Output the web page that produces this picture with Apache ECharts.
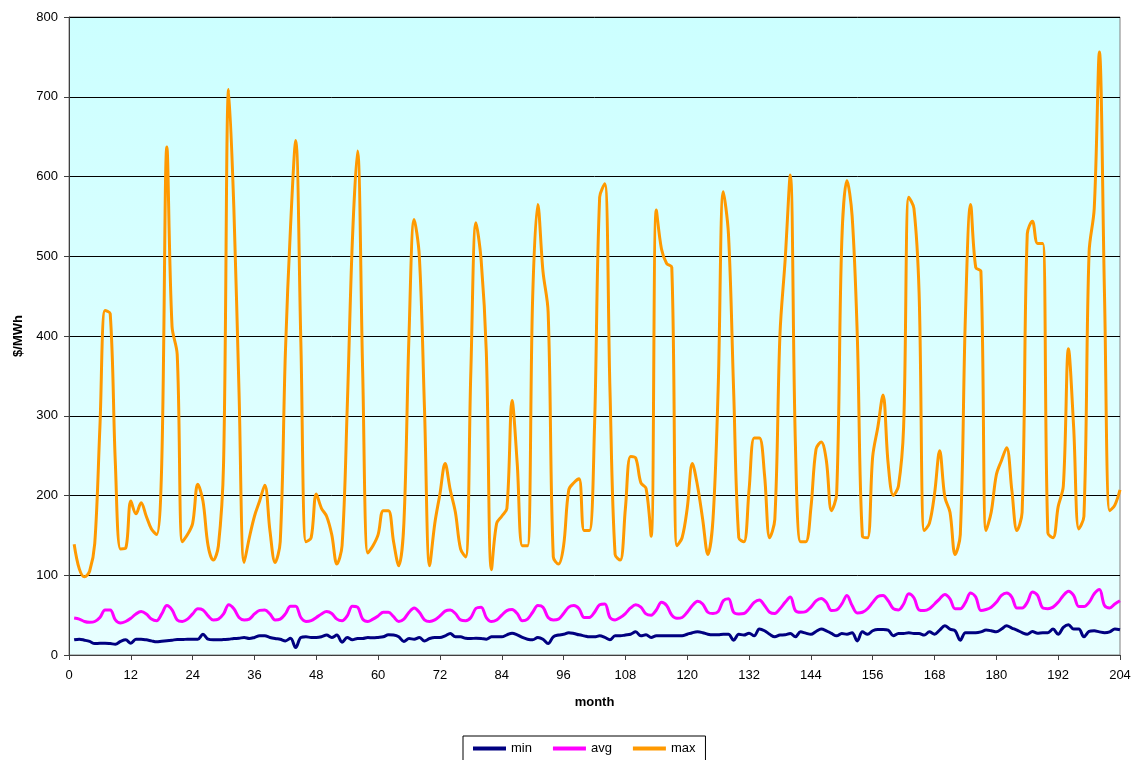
<!DOCTYPE html>
<html>
<head>
<meta charset="utf-8">
<script src="https://cdn.jsdelivr.net/npm/echarts@6/dist/echarts.min.js"></script>
<style>
html,body{margin:0;padding:0;background:#fff;}
#chart{width:1136px;height:760px;}
</style>
</head>
<body>
<div id="chart"></div>
<script>
// month numbers (1..204)
const months = [];
for (let i = 1; i <= 204; i++) months.push(i);

const xTicks = { min: 0, max: 204, interval: 12 };
const yTicks = { min: 0, max: 800, interval: 100 };

const minValues = [
19,19.8,18.6,17,14.3,14.8,14.8,14.3,13.5,17,19,14.8,19.8,19.8,19,17.7,16.5,17.3,18,18.6,
19.4,19.4,19.8,19.8,19.8,26,19.8,19,19,19.4,19.8,20.7,21,22,20.7,22,24,24,22,20.7,
19.8,17.7,21,9.3,22,22.8,22,22,22.8,25,22,25,16,22,19,20.7,20.7,22,21.5,22,
22.8,25.3,25,22.8,17,20.7,19.8,22,17.7,20.7,22,22,24,27,22.8,22.8,21,20.7,21,20.7,
19.8,22.8,23,22.8,25.3,27.4,25.3,22,19.8,19,22,19.8,14.3,22.8,25,26,28,27,25.3,24,
22.8,22.8,24,22,19,24,24,25,26,29,24,25.3,22,24,24,24,24,24,24,26,
28,29,28,26,25.3,25.3,26,26,18.6,26,25,27.4,24,32.5,30.4,26,22.8,25,25.3,27,
22.8,29,27.4,26,29.5,32.5,30.4,27,24,27,26,28,17.7,29,26,30.4,32,32,31.2,24,
27,27,27.8,27,27,25,29,26,31.2,36.7,32.5,30.4,18.6,28,28,28,29,31.2,30.4,29,
32.5,36.7,33.8,31.2,28,26,29.5,27.4,28,28,32.5,26,34.6,38,32.5,32.5,22.8,29.5,30.4,29,
28,29,32.5,31.6
];

const avgValues = [
46.4,45,42,41,42,47,56.5,56.5,44,40,42,46,51.5,54.4,51.5,45,43,51.5,62,56.5,
44,42,45,51.5,58,56.5,49,44,45,51.5,63,58,47,44,45,51.5,56,56.5,51.5,44,
45,51.5,61,61,47,42,43,47,51.5,54.4,52,45,43,49,61,60,45,42,45,49,
53.6,53.6,48,42,45,53.6,59,53.6,44,42,44,49,55,56.5,52,44,43,47,58.6,60,
47,42,44,50,55.7,57,52,43,45,53.6,62,60,47,44,45,52,60,62,58,47,
47,53.6,63,64,47,44,47,52,59,63,60,51.5,50,56.5,66,62,50,46,47,53.6,
62,67.5,64,53.6,52,54.4,68,70.5,53.6,51.5,52,58,66,69,62,53.6,52,58,66,72.6,
55.7,53.6,54.4,60,68,71,66,55.7,56.5,64,74.7,62,52.7,53.6,58,66,73.4,74.7,68,58,
56.5,64,76.8,71.7,56.5,55.7,58,64,70.5,76,70.5,58,58,66,77.6,72.6,55.7,57,60,66,
74.7,77.6,72.6,59,59,66,79,74.7,59,58,60,66,74.7,80,74.7,60.8,60.8,66,76.8,82,
62,59,64,68
];

const maxValues = [
139,108,98,105,140,286,432,428,240,133,134,193,177,191,174,158,151,240,637,412,
377,142,151,165,214,193,137,119,137,240,709,560,330,116,147,174,193,213,156,116,
142,379,537,645,393,142,147,202,184,174,151,114,137,309,519,632,356,128,137,151,
181,181,142,112,165,402,546,500,309,112,165,202,240,207,179,133,123,356,542,495,
380,107,165,174,184,319,240,137,137,449,565,481,430,123,114,137,207,216,221,156,
156,286,574,591,333,126,119,184,249,247,216,209,149,558,509,491,486,137,147,184,
240,212,170,126,170,333,581,528,333,147,142,207,272,272,226,147,170,402,495,602,
263,142,142,184,258,267,244,181,202,519,595,551,402,149,147,249,286,326,240,200,
212,286,574,560,455,156,165,202,256,198,179,126,151,426,565,486,481,156,179,226,
244,260,207,156,179,528,544,516,516,153,147,186,212,384,286,158,174,505,560,756,
449,181,188,207
];

const seriesNames = ['min', 'avg', 'max'];
const seriesColors = ['#000080', '#FF00FF', '#FF9900'];
const seriesData = [minValues, avgValues, maxValues];

const font = 'Liberation Sans, Arial, sans-serif';
const chart = echarts.init(document.getElementById('chart'), null, { renderer: 'canvas' });

chart.setOption({
  animation: false,
  backgroundColor: '#ffffff',
  textStyle: { fontFamily: font },
  grid: {
    left: 69, right: 16, top: 17, bottom: 105,
    show: true,
    borderColor: '#808080',
    borderWidth: 1,
    backgroundColor: new echarts.graphic.LinearGradient(0, 0, 0, 1, [
      { offset: 0, color: '#CCFFFF' },
      { offset: 1, color: '#E8FFFF' }
    ])
  },
  legend: {
    data: seriesNames.map((n, i) => ({ name: n, icon: 'rect' })),
    left: 463,
    top: 736,
    itemWidth: 33,
    itemHeight: 4,
    itemGap: 21,
    padding: [6, 10, 12, 10],
    borderColor: '#000000',
    borderWidth: 1,
    textStyle: { fontFamily: font, fontSize: 13, color: '#000' }
  },
  xAxis: {
    type: 'value',
    min: xTicks.min, max: xTicks.max, interval: xTicks.interval,
    name: 'month',
    nameLocation: 'middle',
    nameGap: 41,
    nameTextStyle: { fontFamily: font, fontSize: 13, fontWeight: 'bold', color: '#000' },
    axisLine: { show: true, lineStyle: { color: '#404040', width: 1 } },
    axisTick: { show: true, inside: false, length: 5, lineStyle: { color: '#404040' } },
    axisLabel: { fontFamily: font, fontSize: 13, color: '#000', margin: 14 },
    splitLine: { show: false }
  },
  yAxis: {
    type: 'value',
    min: yTicks.min, max: yTicks.max, interval: yTicks.interval,
    name: '$/MWh',
    nameLocation: 'middle',
    nameGap: 44,
    nameRotate: 90,
    nameTextStyle: { fontFamily: font, fontSize: 13, fontWeight: 'bold', color: '#000' },
    axisLine: { show: true, lineStyle: { color: '#404040', width: 1 } },
    axisTick: { show: true, inside: false, length: 5, lineStyle: { color: '#404040' } },
    axisLabel: { fontFamily: font, fontSize: 13, color: '#000', margin: 11 },
    splitLine: { show: true, lineStyle: { color: '#000000', width: 1 } }
  },
  series: seriesNames.map((n, i) => ({
    name: n,
    type: 'line',
    smooth: 0.35,
    showSymbol: false,
    symbol: 'none',
    color: seriesColors[i],
    lineStyle: { color: seriesColors[i], width: 3 },
    data: months.map((m, k) => [m, seriesData[i][k]]),
    z: 2 + i
  }))
});
</script>
</body>
</html>
